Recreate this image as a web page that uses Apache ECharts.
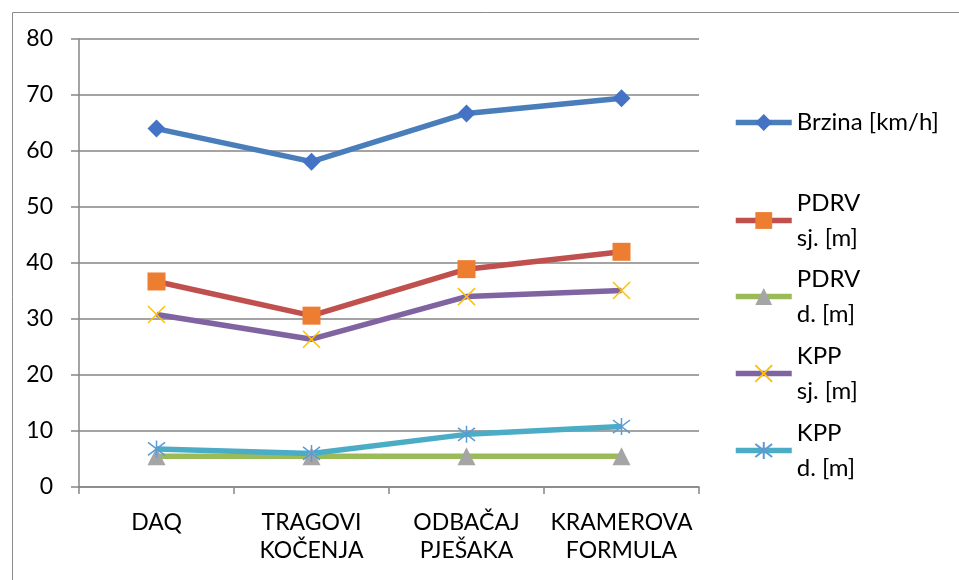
<!DOCTYPE html>
<html>
<head>
<meta charset="utf-8">
<script src="https://cdn.jsdelivr.net/npm/echarts@6/dist/echarts.min.js"></script>
<style>
  html, body { margin: 0; padding: 0; background: #ffffff; }
  #chart { width: 959px; height: 580px; }
</style>
</head>
<body>
<div id="chart"></div>
<script>
// Categories and measured values
const categories = ['DAQ', 'TRAGOVI\nKOČENJA', 'ODBAČAJ\nPJEŠAKA', 'KRAMEROVA\nFORMULA'];
const seriesNames = ['Brzina [km/h]', 'PDRV sj. [m]', 'PDRV d. [m]', 'KPP sj. [m]', 'KPP d. [m]'];
const legendLabels = ['Brzina [km/h]', 'PDRV\nsj. [m]', 'PDRV\nd. [m]', 'KPP\nsj. [m]', 'KPP\nd. [m]'];
const brzina = [64.0, 58.1, 66.7, 69.4];
const pdrvSj = [36.7, 30.6, 38.9, 42.0];
const pdrvD = [5.5, 5.5, 5.5, 5.5];
const kppSj = [30.8, 26.4, 34.0, 35.1];
const kppD = [6.8, 6.0, 9.4, 10.8];
const yTicks = [0, 10, 20, 30, 40, 50, 60, 70, 80];

const FONT = "Lato, 'Open Sans', sans-serif";
const GRID_GRAY = '#868686';

const crossPath = 'path://M0,0L10,10M10,0L0,10';
const starPath = 'path://M0,0L10,10M10,0L0,10M5,-1.5L5,11.5';

const styles = [
  { data: brzina, line: '#4a7ebb', symbol: 'diamond', size: 18, fill: '#4472c4', stroke: null },
  { data: pdrvSj, line: '#c0504d', symbol: 'rect', size: 18, fill: '#ed7d31', stroke: null },
  { data: pdrvD, line: '#9bbb59', symbol: 'triangle', size: 18, fill: '#a5a5a5', stroke: null },
  { data: kppSj, line: '#8064a2', symbol: crossPath, size: 17, fill: 'rgba(0,0,0,0)', stroke: '#ffc000' },
  { data: kppD, line: '#4bacc6', symbol: starPath, size: 17, fill: 'rgba(0,0,0,0)', stroke: '#5b9bd5' }
];

const series = styles.map((s, i) => ({
  name: seriesNames[i],
  type: 'line',
  data: s.data,
  symbol: s.symbol,
  symbolSize: s.size,
  lineStyle: { color: s.line, width: 5.5 },
  itemStyle: s.stroke
    ? { color: s.fill, borderColor: s.stroke, borderWidth: 1.5 }
    : { color: s.fill, borderWidth: 0 },
  emphasis: { disabled: true },
  animation: false
}));

// one legend block per entry so the entries sit at their own heights
const LH = 35;
const legendTops = [105, 168, 244, 321, 398];
const legends = seriesNames.map((name, i) => ({
  data: [name],
  left: 733,
  top: legendTops[i],
  padding: 0,
  itemWidth: 56,
  itemHeight: 21,
  itemGap: 0,
  selectedMode: false,
  lineStyle: { width: 5.5 },
  formatter: () => legendLabels[i],
  textStyle: {
    fontFamily: FONT, fontSize: 24, color: '#000000',
    lineHeight: LH,
    padding: i === 0 ? 0 : [LH, 0, 0, 0]
  }
}));

const chart = echarts.init(document.getElementById('chart'), null, { renderer: 'canvas' });
chart.setOption({
  backgroundColor: '#ffffff',
  animation: false,
  grid: { left: 79, right: 260, top: 39, bottom: 93 },
  legend: legends,
  xAxis: {
    type: 'category',
    data: categories,
    boundaryGap: true,
    axisLine: { lineStyle: { color: GRID_GRAY, width: 1.5 } },
    axisTick: { show: true, length: 7, lineStyle: { color: GRID_GRAY, width: 1.5 } },
    axisLabel: { interval: 0, fontFamily: FONT, fontSize: 23, color: '#000000', lineHeight: 28, margin: 22 }
  },
  yAxis: {
    type: 'value',
    min: yTicks[0],
    max: yTicks[yTicks.length - 1],
    interval: yTicks[1] - yTicks[0],
    axisLine: { show: true, lineStyle: { color: GRID_GRAY, width: 1.5 } },
    axisTick: { show: true, length: 8, lineStyle: { color: GRID_GRAY, width: 1.5 } },
    axisLabel: { fontFamily: FONT, fontSize: 23, color: '#000000', margin: 26 },
    splitLine: { show: true, lineStyle: { color: GRID_GRAY, width: 1.5 } }
  },
  series: series,
  graphic: [{
    type: 'rect',
    left: 10, top: 10,
    shape: { width: 980, height: 600 },
    style: { fill: 'none', stroke: '#8c8c8c', lineWidth: 1 },
    silent: true,
    z: -1
  }]
});
</script>
</body>
</html>
